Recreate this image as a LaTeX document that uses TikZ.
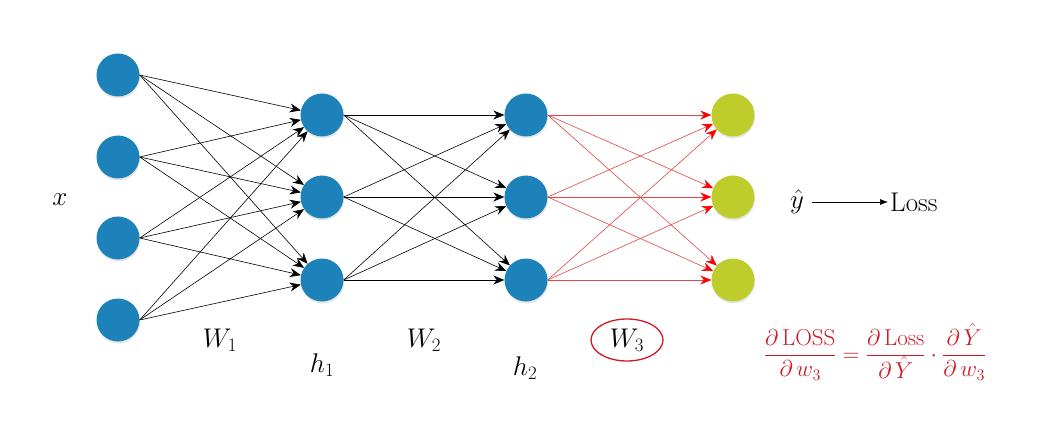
\documentclass[tikz,border=0pt]{standalone}
\usepackage{fix-cm}
\usetikzlibrary{arrows.meta,shapes.geometric,shadows}
\definecolor{nodeblue}{RGB}{30,130,186}
\definecolor{nodegreen}{RGB}{190,204,44}
\definecolor{wirered}{RGB}{226,70,70}
\definecolor{inkred}{RGB}{205,25,35}
\tikzset{
  neuron/.style={circle, minimum size=43pt, inner sep=0pt, fill=nodeblue,
    drop shadow={opacity=0.2, shadow xshift=0.5pt, shadow yshift=-2pt}},
  outneuron/.style={neuron, fill=nodegreen},
  wire/.style={-{Stealth[length=11pt,width=9pt]}, line width=0.6pt},
  redwire/.style={wire, draw=wirered, -{Stealth[length=11pt,width=9pt,red]}},
  lbl/.style={font=\fontsize{27}{31}\selectfont}
}
\begin{document}
\begin{tikzpicture}[x=1pt,y=-1pt]
    \useasboundingbox (0,0) rectangle (1048,446);
    \foreach \i/\y in {1/75,2/157,3/238,4/320}
        \node[neuron] (in\i) at (118,\y) {};
    \foreach \i/\y in {1/115,2/197,3/280} {
        \node[neuron] (ha\i) at (322,\y) {};
        \node[neuron] (hb\i) at (526,\y) {};
        \node[outneuron] (out\i) at (733,\y) {};
    }
    \foreach \i in {1,...,4}
        \foreach \j in {1,2,3}
            \draw[wire] (in\i.east) -- (ha\j);
    \foreach \i in {1,2,3}
        \foreach \j in {1,2,3} {
            \draw[wire] (ha\i.east) -- (hb\j);
            \draw[redwire] (hb\i.east) -- (out\j);
        }
    \node[lbl] (x) at (60,200) {$x$};
    \node[lbl] (w1) at (220,340) {$W_1$};
    \node[lbl] (h1) at (322,365) {$h_1$};
    \node[lbl] (w2) at (424,340) {$W_2$};
    \node[lbl] (h2) at (525,368) {$h_2$};
    \node[lbl, ellipse, draw=inkred, line width=1.3pt, inner sep=0pt,
          minimum width=72pt, minimum height=42pt] (w3) at (627,340) {$W_3$};
    \node[lbl, inner sep=2pt] (yhat) at (797,202) {$\hat{y}$};
    \node[lbl, anchor=west, inner sep=2pt] (loss) at (888,202) {Loss};
    \draw[-{Latex[length=8pt,width=6pt]}, line width=0.6pt, shorten <=6pt] (yhat) -- (loss);
    \node[text=inkred, font=\fontsize{23}{26}\selectfont] (grad) at (875,352)
        {$\displaystyle \frac{\partial\,\mathrm{LOSS}}{\partial\, w_3}
          = \frac{\partial\,\mathrm{Loss}}{\partial\, \hat{Y}} \cdot
          \frac{\partial\, \hat{Y}}{\partial\, w_3}$};
\end{tikzpicture}
\end{document}
